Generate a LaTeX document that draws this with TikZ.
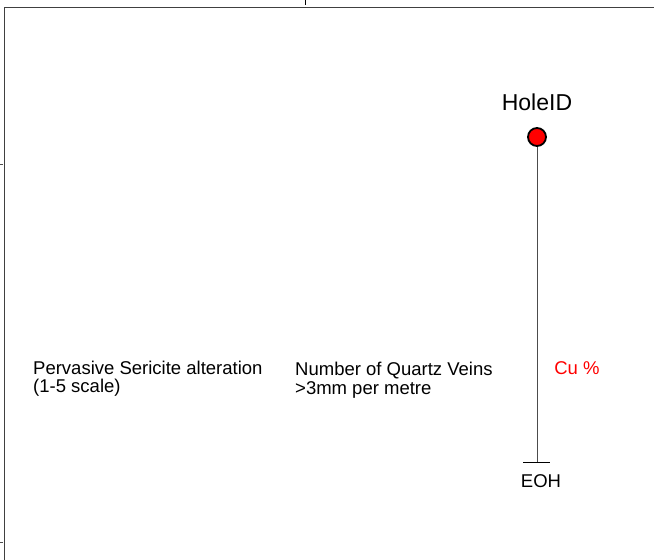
\documentclass[tikz,border=0pt]{standalone}
\usepackage{fontspec}
\setmainfont{Liberation Sans}
\begin{document}
\begin{tikzpicture}[x=1pt,y=-1pt,
  frame/.style={draw=black!75,line width=1pt},
  lbl/.style={font=\fontsize{18.5}{18.5}\selectfont,anchor=base west,inner sep=0pt},
  clbl/.style={font=\fontsize{18.5}{18.5}\selectfont,anchor=base,inner sep=0pt},
  hole/.style={circle,draw=black,line width=1.8pt,fill=red,minimum size=18pt,inner sep=0pt}]
\useasboundingbox (0,0) rectangle (654,560);
\draw[frame] (4,7) -- (654,7);
\draw[frame] (4,7) -- (4,560);
\draw[black] (305,0) -- (305,5);
\draw[black!70] (0,164) -- (3,164);
\draw[black!70] (0,542) -- (3,542);
\node[font=\fontsize{23}{23}\selectfont,anchor=base,inner sep=0pt] (hid) at (537,110) {HoleID};
\node[hole] (top) at (537,137) {};
\coordinate (eoh) at (537,462);
\coordinate (eohl) at (523,462);
\coordinate (eohr) at (550,462);
\draw[black!70,line width=0.8pt] (top) -- (eoh);
\draw[black,line width=0.8pt] (eohl) -- (eohr);
\node[clbl] (eohlbl) at (541,487) {EOH};
\node[clbl,text=red] (cu) at (577,374) {Cu \%};
\node[lbl] (pserc1) at (33,374) {Pervasive Sericite alteration};
\node[lbl] (pserc2) at (33,392) {(1-5 scale)};
\node[lbl] (qv1) at (295,375) {Number of Quartz Veins};
\node[lbl] (qv2) at (295,394) {>3mm per metre};
\end{tikzpicture}
\end{document}
